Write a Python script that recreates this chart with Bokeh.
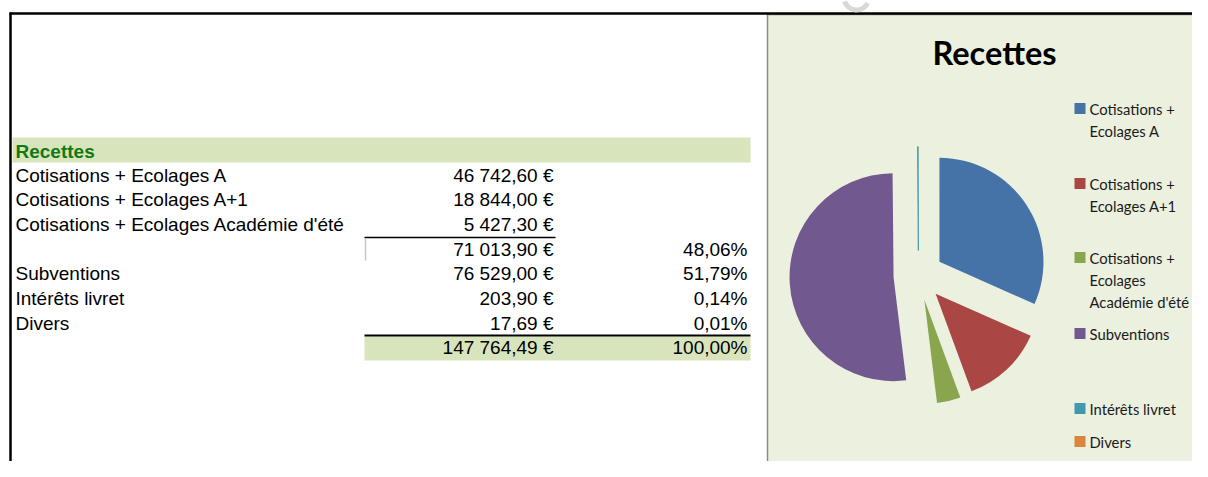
import numpy as np
from bokeh.plotting import figure
from bokeh.models import Range1d
from bokeh.core.properties import value
from bokeh.embed import file_html
from bokeh.resources import INLINE

# ---------------- data ----------------
table_title = "Recettes"
chart_title = "Recettes"
labels = ["Cotisations + Ecolages A", "Cotisations + Ecolages A+1",
          "Cotisations + Ecolages Académie d'été", "Subventions",
          "Intérêts livret", "Divers"]
values = [46742.60, 18844.00, 5427.30, 76529.00, 203.90, 17.69]
colors = ["#4572A7", "#AA4643", "#89A54E", "#71588F", "#4198AF", "#DB843D"]
legend_lines = [["Cotisations +", "Ecolages A"],
                ["Cotisations +", "Ecolages A+1"],
                ["Cotisations +", "Ecolages", "Académie d'été"],
                ["Subventions"],
                ["Intérêts livret"],
                ["Divers"]]

vals = np.array(values)
total = vals.sum()
subtotal = vals[:3].sum()


def eur(v):
    return f"{v:,.2f}".replace(",", " ").replace(".", ",") + " €"


def pct(v):
    return f"{100 * v / total:.2f}".replace(".", ",") + "%"


# ---------------- figure (data coords = image pixels, y flipped) ----------------
W, H = 1192, 461
IMG_H = 477


def Y(y):
    return IMG_H - y


p = figure(width=W, height=H, x_range=Range1d(0, W), y_range=Range1d(IMG_H - H, IMG_H),
           output_backend="svg", toolbar_location=None, min_border=0,
           x_axis_location=None, y_axis_location=None)
p.grid.visible = False
p.outline_line_color = None
p.background_fill_color = "white"
p.border_fill_color = "white"

ARIAL = value("Liberation Sans")
CAL = value("Lato")
FS = "19px"

# ---------------- table ----------------
p.quad(left=[12], right=[750], top=[Y(137)], bottom=[Y(162)], fill_color="#D8E4BC", line_color=None)
p.quad(left=[364], right=[750], top=[Y(336)], bottom=[Y(360)], fill_color="#D8E4BC", line_color=None)

p.text(x=[15], y=[Y(151)], text=[table_title], text_font=ARIAL, text_font_size=FS,
       text_font_style="bold", text_color="#127A12", text_baseline="middle")

row_y_top = [175, 199, 224]
row_y_bot = [273, 298, 323]
p.text(x=[15] * 6, y=[Y(v) for v in row_y_top + row_y_bot], text=labels,
       text_font=ARIAL, text_font_size=FS, text_color="black", text_baseline="middle")
p.text(x=[553] * 6, y=[Y(v) for v in row_y_top + row_y_bot], text=[eur(v) for v in values],
       text_font=ARIAL, text_font_size=FS, text_color="black", text_baseline="middle",
       text_align="right")
p.text(x=[747] * 3, y=[Y(v) for v in row_y_bot], text=[pct(v) for v in values[3:]],
       text_font=ARIAL, text_font_size=FS, text_color="black", text_baseline="middle",
       text_align="right")
# subtotal & total
p.text(x=[553, 747, 553, 747], y=[Y(249), Y(249), Y(347), Y(347)],
       text=[eur(subtotal), pct(subtotal), eur(total), pct(total)],
       text_font=ARIAL, text_font_size=FS, text_color="black", text_baseline="middle",
       text_align="right")

# cell borders
p.segment(x0=[364], y0=[Y(237)], x1=[555], y1=[Y(237)], line_color="black", line_width=1.5)
p.segment(x0=[365], y0=[Y(238)], x1=[365], y1=[Y(260)], line_color="#C8C8C8", line_width=1.5)
p.segment(x0=[364], y0=[Y(335)], x1=[750], y1=[Y(335)], line_color="black", line_width=2)

# ---------------- chart area ----------------
p.quad(left=[767], right=[1215], top=[Y(14)], bottom=[Y(475.5)], fill_color="#EBF0DF",
       line_color="#8A8A8A", line_width=1.5)

# sheet borders
p.segment(x0=[9], y0=[Y(13)], x1=[1210], y1=[Y(13)], line_color="black", line_width=2.5)
p.segment(x0=[10], y0=[Y(12)], x1=[10], y1=[Y(480)], line_color="black", line_width=2.5)

# watermark fragment
p.annular_wedge(x=[856], y=[Y(-3)], inner_radius=10, outer_radius=15,
                start_angle=np.pi * 1.1, end_angle=np.pi * 1.85, fill_color="#D4D4D4",
                line_color=None, fill_alpha=0.9)

p.text(x=[994], y=[Y(52)], text=[chart_title], text_font=CAL, text_font_size="32.5px",
       text_font_style="bold", text_color="black", text_align="center", text_baseline="middle")

# pie (clockwise from 12 o'clock, exploded)
CX, CY, R, EXP = 918, Y(275), 104, 25
frac = vals / total
cum_end = np.cumsum(frac) * 2 * np.pi
cum_start = cum_end - frac * 2 * np.pi
mid = (cum_start + cum_end) / 2
px = CX + EXP * np.sin(mid)
py = CY + EXP * np.cos(mid)
p.wedge(x=px, y=py, radius=R,
        start_angle=np.pi / 2 - cum_end, end_angle=np.pi / 2 - cum_start,
        fill_color=colors, line_color=None)
# thin slice edge so the tiny (but visible) slice remains visible
thin = (frac < 0.01) & (frac > 0.0005)
p.segment(x0=px[thin], y0=py[thin],
          x1=(px + R * np.sin(mid))[thin], y1=(py + R * np.cos(mid))[thin],
          line_color=np.array(colors)[thin].tolist(), line_width=1.2)

# legend
leg_first_y = [108, 183, 257, 333, 408, 441]
LINE = 22
p.rect(x=[1079.5] * 6, y=[Y(v) for v in leg_first_y], width=11, height=11,
       fill_color=colors, line_color=None)
lx, ly, lt = [], [], []
for y0, lines in zip(leg_first_y, legend_lines):
    for i, t in enumerate(lines):
        lx.append(1089)
        ly.append(Y(y0 + i * LINE))
        lt.append(t)
p.text(x=lx, y=ly, text=lt, text_font=CAL, text_font_size="14.8px", text_color="#1A1A1A",
       text_baseline="middle")

open("out.html", "w").write(file_html(p, INLINE))
